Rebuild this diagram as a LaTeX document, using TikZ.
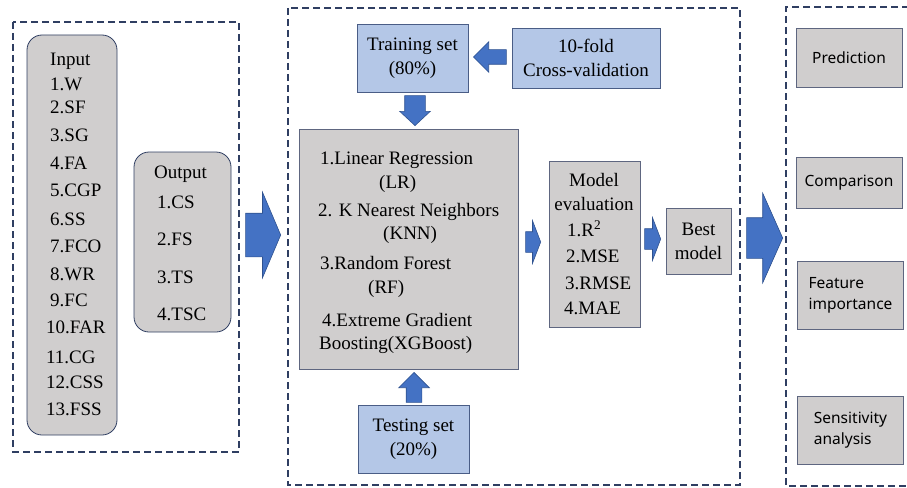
\documentclass[tikz,border=0pt]{standalone}
\usepackage{fontspec}
\setmainfont{Liberation Serif}
\setsansfont{Noto Sans}
\usetikzlibrary{shapes.arrows, positioning, calc}

\definecolor{framenavy}{HTML}{2F3E62}
\definecolor{boxblue}{HTML}{B4C7E7}
\definecolor{boxgray}{HTML}{D0CECE}
\definecolor{edgeblue}{HTML}{4A5D86}
\definecolor{edgegray}{HTML}{5E6680}
\definecolor{arrowblue}{HTML}{4472C4}
\definecolor{arrowedge}{HTML}{2F528F}

\newcommand{\serifsize}{\fontsize{19}{24}\selectfont}
\newcommand{\sanssize}{\sffamily\fontsize{15.5}{21}\selectfont}

\tikzset{
  dashframe/.style={draw=framenavy, line width=1.3pt, dash pattern=on 7pt off 4pt},
  listbox/.style={draw=framenavy, fill=boxgray, rounded corners=15pt, line width=0.8pt},
  bluebox/.style={draw=edgeblue, fill=boxblue, line width=0.8pt, align=center, font=\serifsize},
  graybox/.style={draw=edgegray, fill=boxgray, line width=0.8pt},
  sidebox/.style={graybox, font=\sanssize, align=left, minimum width=106},
  % shaft width comes from the inner sep across the arrow, the head from head extend
  blockarrow/.style={single arrow, draw=arrowedge, fill=arrowblue, line width=0.6pt,
    single arrow head indent=0pt, anchor=tip},
  hblock/.style={blockarrow, inner xsep=0pt, inner ysep=#1},
  vblock/.style={blockarrow, inner ysep=0pt, inner xsep=#1},
  listitem/.style={anchor=base west, inner sep=0pt, font=\serifsize},
}

\begin{document}
\begin{tikzpicture}[x=1pt, y=-1pt]
    \useasboundingbox (0,0) rectangle (907,487);

    % Dashed frames of the three stages
    \draw[dashframe] (13,22) rectangle (239,452);
    \draw[dashframe] (288,8) rectangle (740,485);
    \draw[dashframe] (909,7) -| (786,486) -- (909,486);

    % Input and output variables
    \draw[listbox] (27,35) rectangle (117,435);
    \draw[listbox] (134,152) rectangle (231,332);
    \foreach \t/\x/\y [count=\i] in {Input/50/60, 1.W/50/84, 2.SF/50/107, 3.SG/50/135,
        4.FA/50/163, 5.CGP/50/190, 6.SS/50/219, 7.FCO/50/246, 8.WR/50/274, 9.FC/50/300,
        10.FAR/46/327, 11.CG/46/357, 12.CSS/46/382, 13.FSS/46/409} {
        \node[listitem] (in\i) at (\x,\y+6) {\t};
    }
    \foreach \t/\x/\y [count=\i] in {Output/154/172, 1.CS/157/202, 2.FS/157/239,
        3.TS/157/277, 4.TSC/157/314} {
        \node[listitem] (out\i) at (\x,\y+6) {\t};
    }

    % Data split and cross-validation
    \node[bluebox, minimum width=111, minimum height=68] (train) at (412.5,58) {Training set\\(80\%)};
    \node[bluebox, minimum width=148, minimum height=60] (cv) at (586,58) {10-fold\\Cross-validation};
    \node[bluebox, minimum width=111, minimum height=68] (test) at (413.5,439) {Testing set\\(20\%)};

    % Models
    \node[graybox, minimum width=219, minimum height=240] (models) at (408.5,249) {};
    \foreach \t/\x/\y [count=\i] in {1.Linear Regression/320/158, (LR)/379/182,
        2. K Nearest Neighbors/318/210, (KNN)/383/233, 3.Random Forest/320/263,
        (RF)/368/287, 4.Extreme Gradient/322/320, Boosting(XGBoost)/319/343} {
        \node[listitem] (mod\i) at (\x,\y+6) {\t};
    }

    % Evaluation and best model
    \node[graybox, minimum width=91, minimum height=166] (eval) at (594.5,244) {};
    \node[align=center, font=\serifsize, inner sep=0pt] (evaltitle) at (594,192) {Model\\evaluation};
    \foreach \t/\x/\y [count=\i] in {1.R\textsuperscript{2}/567/230, 2.MSE/566/256,
        3.RMSE/565/283, 4.MAE/564/308} {
        \node[listitem] (ev\i) at (\x,\y+6) {\t};
    }
    \node[graybox, align=center, font=\serifsize, minimum width=65, minimum height=66] (best) at (698.5,241) {Best\\model};

    % Applications
    \node[sidebox, minimum height=59] (pred) at (849,57.5) {Prediction};
    \node[sidebox, minimum height=51] (comp) at (849,182.5) {Comparison};
    \node[sidebox, minimum height=68] (feat) at (850.5,295) {Feature\\importance};
    \node[sidebox, minimum height=68] (sens) at (850.5,430) {Sensitivity\\analysis};

    % Block arrows, placed by their tips
    \node[hblock=21.5, minimum height=35, single arrow head extend=21,
        single arrow tip angle=134] (a1) at (281,235) {};
    \node[hblock=20, minimum height=36, single arrow head extend=24.5,
        single arrow tip angle=132] (a2) at (783,238) {};
    \node[hblock=10, minimum height=15, single arrow head extend=11,
        single arrow tip angle=138] (a3) at (541,242) {};
    \node[hblock=10, minimum height=16, single arrow head extend=11,
        single arrow tip angle=138] (a4) at (661,239) {};
    \node[hblock=7, shape border rotate=180, minimum height=33,
        single arrow head extend=8, single arrow tip angle=90] (a5) at (473,57) {};
    \node[vblock=10, shape border rotate=270, minimum height=30,
        single arrow head extend=5, single arrow tip angle=94] (a6) at (415,126) {};
    \node[vblock=7.5, shape border rotate=90, minimum height=30,
        single arrow head extend=7.5, single arrow tip angle=90] (a7) at (414,372) {};
\end{tikzpicture}
\end{document}
